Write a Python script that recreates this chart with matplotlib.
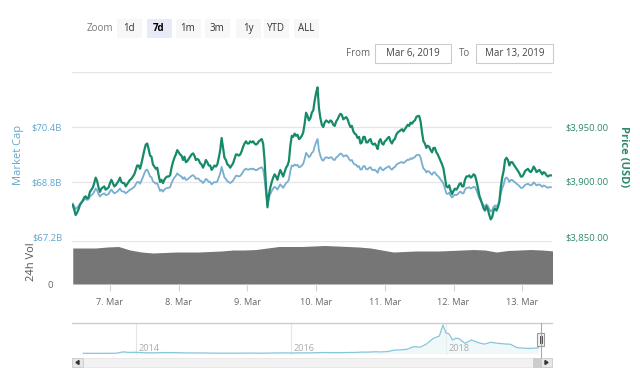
import matplotlib
matplotlib.use('Agg')
import matplotlib.pyplot as plt
import matplotlib.transforms as mtrans
from matplotlib.patches import Rectangle, Polygon
import pandas as pd

plt.rcParams['font.family'] = ['Open Sans', 'DejaVu Sans']

# ---------------- data (half-hourly from 6 Mar 11:00) ----------------
price_usd = [
    3879, 3875, 3870, 3872, 3875, 3879, 3881, 3883, 3886, 3887,
    3885, 3886, 3891, 3893, 3895, 3899, 3904, 3901, 3895, 3891,
    3894, 3895, 3896, 3893, 3894, 3895, 3899, 3902, 3899, 3896,
    3897, 3899, 3901, 3904, 3900, 3899, 3899, 3896, 3898, 3900,
    3902, 3903, 3905, 3907, 3911, 3915, 3915, 3912, 3917, 3923,
    3929, 3934, 3935, 3930, 3924, 3923, 3916, 3914, 3912, 3913,
    3906, 3900, 3902, 3899, 3902, 3904, 3905, 3905, 3906, 3913,
    3918, 3922, 3925, 3929, 3927, 3925, 3924, 3920, 3923, 3918,
    3919, 3921, 3923, 3925, 3926, 3924, 3920, 3921, 3920, 3917,
    3916, 3913, 3916, 3920, 3918, 3915, 3915, 3911, 3913, 3915,
    3914, 3916, 3922, 3929, 3940, 3931, 3922, 3920, 3916, 3915,
    3913, 3915, 3917, 3921, 3925, 3925, 3924, 3925, 3928, 3932,
    3935, 3937, 3935, 3935, 3937, 3936, 3937, 3935, 3934, 3935,
    3937, 3938, 3939, 3935, 3920, 3896, 3877, 3888, 3895, 3900,
    3904, 3907, 3905, 3902, 3907, 3911, 3908, 3905, 3909, 3913,
    3915, 3919, 3933, 3942, 3941, 3944, 3942, 3943, 3939, 3940,
    3942, 3945, 3953, 3963, 3960, 3956, 3958, 3963, 3965, 3974,
    3981, 3986, 3967, 3958, 3952, 3950, 3954, 3956, 3955, 3954,
    3956, 3955, 3952, 3951, 3955, 3957, 3960, 3962, 3961, 3957,
    3958, 3959, 3957, 3953, 3950, 3951, 3946, 3944, 3943, 3940,
    3941, 3935, 3936, 3941, 3941, 3936, 3936, 3938, 3939, 3935,
    3934, 3935, 3933, 3930, 3937, 3939, 3935, 3934, 3937, 3938,
    3940, 3941, 3937, 3935, 3938, 3939, 3943, 3945, 3946, 3947,
    3948, 3946, 3948, 3950, 3952, 3951, 3954, 3953, 3955, 3956,
    3959, 3960, 3960, 3955, 3945, 3937, 3935, 3931, 3933, 3932,
    3929, 3927, 3931, 3931, 3927, 3925, 3922, 3919, 3916, 3912,
    3904, 3896, 3895, 3897, 3892, 3889, 3892, 3894, 3893, 3895,
    3898, 3899, 3896, 3896, 3902, 3905, 3905, 3906, 3904, 3905,
    3907, 3906, 3901, 3895, 3888, 3884, 3880, 3876, 3874, 3878,
    3875, 3870, 3866, 3868, 3874, 3876, 3874, 3877, 3882, 3895,
    3904, 3910, 3920, 3922, 3920, 3915, 3918, 3918, 3916, 3914,
    3912, 3910, 3908, 3905, 3905, 3907, 3910, 3911, 3912, 3910,
    3909, 3911, 3914, 3912, 3909, 3910, 3911, 3909, 3907, 3909,
    3908, 3906, 3905, 3906, 3906]

market_cap_b = [
    68.17, 68.10, 68.01, 68.05, 68.10, 68.17, 68.21, 68.24, 68.29, 68.31,
    68.28, 68.29, 68.38, 68.42, 68.45, 68.52, 68.61, 68.56, 68.45, 68.38,
    68.43, 68.45, 68.47, 68.42, 68.43, 68.45, 68.52, 68.58, 68.52, 68.47,
    68.49, 68.52, 68.56, 68.61, 68.54, 68.52, 68.52, 68.47, 68.50, 68.54,
    68.58, 68.59, 68.63, 68.66, 68.73, 68.80, 68.80, 68.75, 68.84, 68.94,
    69.05, 69.14, 69.16, 69.07, 68.96, 68.94, 68.82, 68.79, 68.75, 68.77,
    68.65, 68.54, 68.58, 68.52, 68.58, 68.61, 68.63, 68.63, 68.65, 68.77,
    68.86, 68.93, 68.98, 69.05, 69.01, 68.98, 68.96, 68.89, 68.94, 68.86,
    68.87, 68.91, 68.94, 68.98, 69.00, 68.96, 68.89, 68.91, 68.89, 68.84,
    68.82, 68.77, 68.82, 68.89, 68.86, 68.80, 68.80, 68.73, 68.77, 68.80,
    68.79, 68.82, 68.93, 69.05, 69.24, 69.08, 68.93, 68.89, 68.82, 68.80,
    68.77, 68.80, 68.84, 68.91, 68.98, 68.98, 68.96, 68.98, 69.03, 69.10,
    69.16, 69.19, 69.16, 69.16, 69.19, 69.17, 69.19, 69.16, 69.14, 69.16,
    69.19, 69.21, 69.23, 69.16, 68.89, 68.47, 68.14, 68.33, 68.45, 68.54,
    68.61, 68.66, 68.63, 68.58, 68.66, 68.73, 68.68, 68.63, 68.70, 68.77,
    68.80, 68.87, 69.12, 69.28, 69.26, 69.31, 69.28, 69.30, 69.23, 69.24,
    69.28, 69.33, 69.47, 69.65, 69.59, 69.52, 69.56, 69.65, 69.68, 69.84,
    69.96, 70.05, 69.72, 69.56, 69.45, 69.42, 69.49, 69.52, 69.51, 69.49,
    69.52, 69.51, 69.45, 69.44, 69.51, 69.54, 69.59, 69.63, 69.61, 69.54,
    69.56, 69.58, 69.54, 69.47, 69.42, 69.44, 69.35, 69.31, 69.30, 69.24,
    69.26, 69.16, 69.17, 69.26, 69.26, 69.17, 69.17, 69.21, 69.23, 69.16,
    69.14, 69.16, 69.12, 69.07, 69.19, 69.23, 69.16, 69.14, 69.19, 69.21,
    69.24, 69.26, 69.19, 69.16, 69.21, 69.23, 69.30, 69.33, 69.35, 69.37,
    69.38, 69.35, 69.38, 69.42, 69.45, 69.44, 69.49, 69.47, 69.51, 69.52,
    69.58, 69.59, 69.59, 69.51, 69.33, 69.19, 69.16, 69.08, 69.12, 69.10,
    69.05, 69.01, 69.08, 69.08, 69.01, 68.98, 68.93, 68.87, 68.82, 68.75,
    68.61, 68.47, 68.45, 68.49, 68.40, 68.35, 68.40, 68.43, 68.42, 68.45,
    68.50, 68.52, 68.47, 68.47, 68.58, 68.63, 68.63, 68.65, 68.61, 68.63,
    68.66, 68.65, 68.56, 68.45, 68.33, 68.26, 68.19, 68.12, 68.08, 68.15,
    68.10, 68.01, 67.94, 67.98, 68.08, 68.12, 68.08, 68.14, 68.22, 68.45,
    68.61, 68.72, 68.89, 68.93, 68.89, 68.80, 68.86, 68.86, 68.82, 68.79,
    68.75, 68.72, 68.68, 68.63, 68.63, 68.66, 68.72, 68.73, 68.75, 68.72,
    68.70, 68.73, 68.79, 68.75, 68.70, 68.72, 68.73, 68.70, 68.66, 68.70,
    68.68, 68.65, 68.63, 68.65, 68.65]

# 24h volume in $B, every 4 hours from 6 Mar 11:00
volume_b = [8.79, 8.79, 8.79, 9.03, 9.16, 8.30, 7.81, 7.57, 7.69, 7.81,
            7.81, 7.81, 7.94, 8.06, 8.30, 8.30, 8.42, 8.79, 9.16, 9.16,
            9.16, 9.28, 9.40, 9.28, 9.16, 9.03, 8.79, 8.30, 7.81, 7.94,
            8.06, 8.06, 8.06, 8.18, 8.30, 8.42, 8.30, 7.81, 8.18, 8.30,
            8.42, 8.30, 8.06]

nav_dates = ['2013-04-28', '2013-06-01', '2013-07-01', '2013-08-01', '2013-09-01',
             '2013-10-01', '2013-11-01', '2013-12-01', '2014-01-01', '2014-02-01',
             '2014-03-01', '2014-04-01', '2014-05-01', '2014-06-01', '2014-07-01',
             '2014-08-01', '2014-09-01', '2014-10-01', '2014-11-01', '2014-12-01',
             '2015-01-01', '2015-02-01', '2015-03-01', '2015-04-01', '2015-05-01',
             '2015-06-01', '2015-07-01', '2015-08-01', '2015-09-01', '2015-10-01',
             '2015-11-01', '2015-12-01', '2016-01-01', '2016-02-01', '2016-03-01',
             '2016-04-01', '2016-05-01', '2016-06-01', '2016-07-01', '2016-08-01',
             '2016-09-01', '2016-10-01', '2016-11-01', '2016-12-01', '2017-01-01',
             '2017-02-01', '2017-03-01', '2017-04-01', '2017-05-01', '2017-06-01',
             '2017-07-01', '2017-08-01', '2017-09-01', '2017-10-01', '2017-11-01',
             '2017-12-01', '2017-12-17', '2018-01-01', '2018-01-15', '2018-02-01',
             '2018-02-15', '2018-03-01', '2018-04-01', '2018-05-01', '2018-06-01',
             '2018-07-01', '2018-08-01', '2018-09-01', '2018-10-01', '2018-11-01',
             '2018-12-01', '2019-01-01', '2019-02-01', '2019-03-13']
nav_price = [130, 100, 100, 130, 130, 200, 1100, 750, 850, 550,
             450, 450, 600, 640, 590, 480, 390, 340, 380, 320,
             220, 250, 245, 235, 230, 260, 285, 230, 235, 315,
             375, 430, 370, 435, 415, 450, 530, 670, 625, 575,
             610, 700, 740, 960, 970, 1190, 1070, 1350, 2290, 2480,
             2880, 4700, 4340, 6470, 10230, 12000, 19500, 14000, 13500, 9200,
             10400, 10300, 7000, 9200, 7500, 6400, 7700, 7000, 6600, 6300,
             4000, 3700, 3450, 3900]

day_labels = ['7. Mar', '8. Mar', '9. Mar', '10. Mar', '11. Mar', '12. Mar', '13. Mar']
day_dates = ['2019-03-07', '2019-03-08', '2019-03-09', '2019-03-10',
             '2019-03-11', '2019-03-12', '2019-03-13']
mcap_ticks = [67.2, 68.8, 70.4]
mcap_labels = ['$67.2B', '$68.8B', '$70.4B']
price_ticks = [3850, 3900, 3950]
price_labels = ['$3,850.00', '$3,900.00', '$3,950.00']
range_buttons = ['1d', '7d', '1m', '3m', '1y', 'YTD', 'ALL']
selected_button = '7d'
nav_years = ['2014', '2016', '2018']
date_from = 'Mar 6, 2019'
date_to = 'Mar 13, 2019'

# ---------------- styling ----------------
GREEN = '#178a69'
BLUE = '#78aed1'
BLUE_TXT = '#64a6cf'
GREEN_TXT = '#2e8a6f'
GRID = '#e6e6e6'
GRAYTXT = '#666666'

times = pd.date_range('2019-03-06 11:00', periods=len(price_usd), freq='30min')
vol_times = pd.date_range('2019-03-06 11:00', periods=len(volume_b), freq='4h')
x_left = pd.Timestamp('2019-03-06 10:44')
x_right = pd.Timestamp('2019-03-13 10:24')

W, H = 640, 380
fig = plt.figure(figsize=(6.4, 3.8), dpi=100)
fig.patch.set_facecolor('white')


def rect(x0, y0, x1, y1):
    return [x0 / W, 1 - y1 / H, (x1 - x0) / W, (y1 - y0) / H]


# ---- main price / market cap panel ----
ax_m = fig.add_axes(rect(72, 72, 552, 237))
ax_p = ax_m.twinx()
for a in (ax_m, ax_p):
    for s in a.spines.values():
        s.set_visible(False)
    a.set_facecolor('none')
    a.set_xlim(x_left, x_right)
    a.tick_params(axis='x', bottom=False, labelbottom=False)

ax_m.set_ylim(67.2, 72.0)
ax_p.set_ylim(3850, 4000)
for v in (3850, 3900, 3950, 4000):
    ax_m.axhline(67.2 + (v - 3850) * (4.8 / 150), color=GRID, lw=0.9, zorder=0)

ax_m.plot(times, market_cap_b, color=BLUE, lw=1.3, zorder=2)
ax_p.plot(times, price_usd, color=GREEN, lw=1.6, zorder=3)

ax_m.set_yticks(mcap_ticks)
ax_m.set_yticklabels(mcap_labels)
ax_m.tick_params(axis='y', length=0, pad=7, labelsize=6.8, labelcolor=BLUE_TXT)
ax_p.set_yticks(price_ticks)
ax_p.set_yticklabels(price_labels)
ax_p.tick_params(axis='y', length=0, pad=9.5, labelsize=6.8, labelcolor=GREEN_TXT)

# ---- volume panel ----
ax_v = fig.add_axes(rect(72, 241, 552, 284))
for s in ax_v.spines.values():
    s.set_visible(False)
ax_v.fill_between(vol_times, 0, volume_b, color='#767676', lw=0)
ax_v.set_xlim(x_left, x_right)
ax_v.set_ylim(0, 10.5)
ax_v.axhline(10.5, color=GRID, lw=0.9)
ax_v.set_yticks([0])
ax_v.set_yticklabels(['0'])
ax_v.tick_params(axis='y', length=0, pad=14, labelsize=6.8, labelcolor=GRAYTXT)
ax_v.set_xticks(pd.to_datetime(day_dates))
ax_v.set_xticklabels(day_labels)
ax_v.tick_params(axis='x', length=5, width=0.8, color='#ccd6eb', direction='out',
                 pad=5, labelsize=6.6, labelcolor=GRAYTXT)

# ---- axis titles ----
fig.text(18 / W, 1 - 155 / H, 'Market Cap', rotation=90, ha='center', va='center',
         fontsize=8, color=BLUE_TXT)
fig.text(623 / W, 1 - 157 / H, 'Price (USD)', rotation=270, ha='center', va='center',
         fontsize=8, color=GREEN_TXT, fontweight='bold')
fig.text(31 / W, 1 - 262 / H, '24h Vol', rotation=90, ha='center', va='center',
         fontsize=8, color='#555555')

# ---- navigator ----
ax_n = fig.add_axes(rect(72, 323, 552, 355))
for s in ax_n.spines.values():
    s.set_visible(False)
nd = pd.to_datetime(nav_dates)
n_left = pd.Timestamp('2014-01-01') - pd.Timedelta(days=301.6)
n_right = pd.Timestamp('2018-01-01') + pd.Timedelta(days=499.5)
ax_n.set_xlim(n_left, n_right)
ax_n.set_ylim(-1026, 20868)
for yr in nav_years:
    ax_n.axvline(pd.Timestamp(yr + '-01-01'), color=GRID, lw=0.8, zorder=0)
trans = mtrans.blended_transform_factory(ax_n.transData, ax_n.transAxes)
for yr in nav_years:
    ax_n.text(pd.Timestamp(yr + '-01-01') + pd.Timedelta(days=12), 0.2, yr,
              transform=trans, fontsize=6.6, color='#aaaaaa', va='center', ha='left')
ax_n.fill_between(nd, 0, nav_price, color='#e6f4f8', lw=0, alpha=0.6)
ax_n.plot(nd, nav_price, color='#86c7db', lw=0.9)
ax_n.set_xticks([])
ax_n.set_yticks([])

# ---- overlay for UI elements ----
ov = fig.add_axes([0, 0, 1, 1])
ov.set_xlim(0, W)
ov.set_ylim(H, 0)
ov.axis('off')

ov.text(87, 28.5, 'Zoom', fontsize=7, color='#777777', va='center', ha='left')
btn_centers = [129, 159, 188, 217, 248, 276, 306]
for lbl, cx in zip(range_buttons, btn_centers):
    sel = lbl == selected_button
    ov.add_patch(Rectangle((cx - 12.5, 19), 25, 19,
                           facecolor='#e6ebf5' if sel else '#f7f7f7', edgecolor='none'))
    ov.text(cx, 28.5, lbl, fontsize=7, ha='center', va='center',
            color='#000000' if sel else '#333333',
            fontweight='bold' if sel else 'normal')

ov.text(370, 53.5, 'From', fontsize=7, color='#666666', ha='right', va='center')
ov.add_patch(Rectangle((375, 44), 76, 19, facecolor='white', edgecolor='#cccccc', lw=0.8))
ov.text(413, 53.5, date_from, fontsize=7, color='#444444', ha='center', va='center')
ov.text(459, 53.5, 'To', fontsize=7, color='#666666', ha='left', va='center')
ov.add_patch(Rectangle((476, 44), 77, 19, facecolor='white', edgecolor='#cccccc', lw=0.8))
ov.text(514.5, 53.5, date_to, fontsize=7, color='#444444', ha='center', va='center')

# navigator frame / handle
ov.plot([72, 552], [323, 323], color='#cccccc', lw=1.0)
ov.plot([540.5, 540.5], [323, 357], color='#aaaaaa', lw=0.8)
ov.add_patch(Rectangle((537, 333), 7, 13, facecolor='#f2f2f2', edgecolor='#999999', lw=0.8))
ov.plot([539.5, 539.5], [336, 343], color='#333333', lw=0.6)
ov.plot([541.5, 541.5], [336, 343], color='#333333', lw=0.6)

# scrollbar
ov.add_patch(Rectangle((72, 358), 480, 9, facecolor='#f2f2f2', edgecolor='#e6e6e6', lw=0.6))
ov.add_patch(Rectangle((72, 358), 11, 9, facecolor='#e6e6e6', edgecolor='#cccccc', lw=0.6))
ov.add_patch(Rectangle((541, 358), 11, 9, facecolor='#e6e6e6', edgecolor='#cccccc', lw=0.6))
ov.add_patch(Rectangle((533, 358), 8, 9, facecolor='#cccccc', edgecolor='#cccccc', lw=0.6))
ov.add_patch(Polygon([[76, 362.5], [79, 360.5], [79, 364.5]], closed=True, color='#333333'))
ov.add_patch(Polygon([[548, 362.5], [545, 360.5], [545, 364.5]], closed=True, color='#333333'))

fig.savefig('out.png', dpi=100, facecolor='white')
